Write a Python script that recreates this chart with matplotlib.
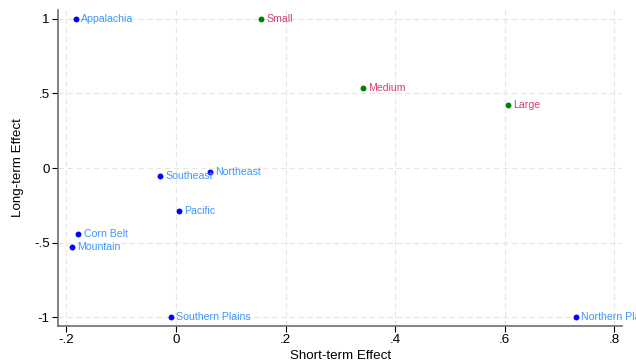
import matplotlib
matplotlib.use('Agg')
import matplotlib.pyplot as plt
import numpy as np

plt.rcParams['font.family'] = ['Liberation Sans', 'DejaVu Sans']

# regions
regions = ['Appalachia', 'Southeast', 'Northeast', 'Pacific', 'Corn Belt',
           'Mountain', 'Southern Plains', 'Northern Plains']
reg_short = [-0.183, -0.029, 0.062, 0.006, -0.178, -0.190, -0.009, 0.730]
reg_long = [1.0, -0.052, -0.025, -0.289, -0.443, -0.530, -1.0, -1.0]

# farm sizes
sizes = ['Small', 'Medium', 'Large']
size_short = [0.155, 0.341, 0.606]
size_long = [1.0, 0.535, 0.423]

xticks = [-0.2, 0, 0.2, 0.4, 0.6, 0.8]
xticklabels = ['-.2', '0', '.2', '.4', '.6', '.8']
yticks = [-1, -0.5, 0, 0.5, 1]
yticklabels = ['-1', '-.5', '0', '.5', '1']

fig = plt.figure(figsize=(6.36, 3.62), dpi=100)
ax = fig.add_axes([0.0912, 0.0994, 0.887, 0.873])

ax.scatter(reg_short, reg_long, s=18, color='#0000ff', zorder=3, linewidths=0)
for x, y, t in zip(reg_short, reg_long, regions):
    ax.annotate(t, (x, y), xytext=(3.8, 0), textcoords='offset points',
                va='center', ha='left', fontsize=7.6, color='#3d96ff',
                annotation_clip=False)

ax.scatter(size_short, size_long, s=18, color='#008000', zorder=3, linewidths=0)
for x, y, t in zip(size_short, size_long, sizes):
    ax.annotate(t, (x, y), xytext=(3.8, 0), textcoords='offset points',
                va='center', ha='left', fontsize=7.6, color='#dc3a6c',
                annotation_clip=False)

ax.set_xlim(-0.2153, 0.814)
ax.set_ylim(-1.06, 1.06)
ax.set_xticks(xticks)
ax.set_xticklabels(xticklabels)
ax.set_yticks(yticks)
ax.set_yticklabels(yticklabels)
ax.tick_params(labelsize=9.6, length=4.5, width=0.8, color='black', pad=1.5)

ax.grid(True, color='#e6e6e6', linestyle=(0, (5, 3)), linewidth=0.8)
ax.set_axisbelow(True)

for s in ['top', 'right']:
    ax.spines[s].set_visible(False)
for s in ['left', 'bottom']:
    ax.spines[s].set_color('#6e6e6e')
    ax.spines[s].set_linewidth(1.2)

ax.set_xlabel('Short-term Effect', fontsize=9.6, labelpad=2.5)
ax.set_ylabel('Long-term Effect', fontsize=9.6, labelpad=7)

fig.savefig('out.png', dpi=100)
